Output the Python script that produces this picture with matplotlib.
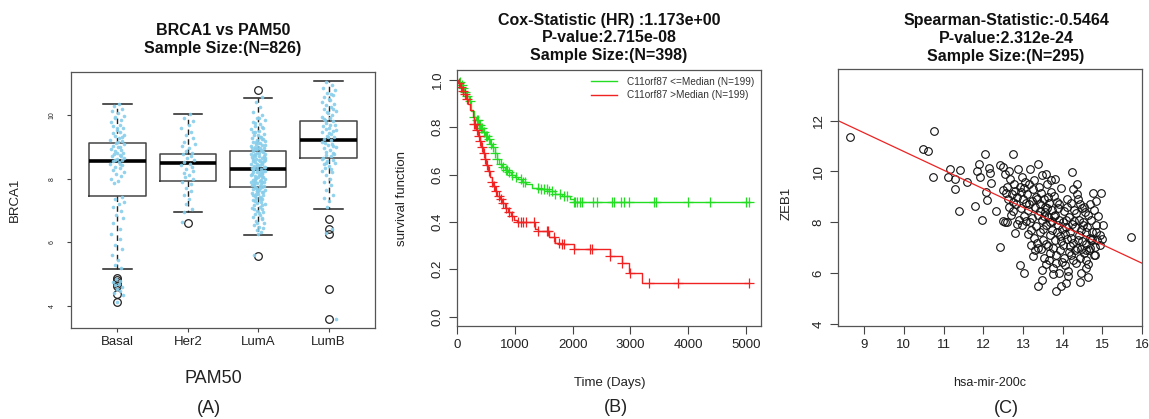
import numpy as np
import matplotlib
matplotlib.use("Agg")
from matplotlib import pyplot as plt

plt.rcParams["font.family"] = ["Liberation Sans", "DejaVu Sans"]

W, H = 1149, 419
TXT = "#222222"
FRAME = "#555555"

# ---------------- panel A: BRCA1 vs PAM50 ----------------
GROUPS = ["Basal", "Her2", "LumA", "LumB"]
BOX_WHISLO = [5.16, 6.94, 6.24, 7.05]
BOX_Q1 = [7.45, 7.94, 7.73, 8.65]
BOX_MED = [8.54, 8.49, 8.30, 9.21]
BOX_Q3 = [9.11, 8.78, 8.88, 9.82]
BOX_WHISHI = [10.35, 10.03, 10.53, 11.07]
BOX_FLIERS = [[4.88, 4.82, 4.76, 4.70, 4.64, 4.38, 4.12],
              [6.62],
              [10.80, 5.58],
              [6.73, 6.42, 6.27, 4.52, 3.59]]

# jittered samples: (value, horizontal offset)
BASAL_PTS = [(10.35, .02), (10.28, -.05), (10.2, .07), (10.12, -.08), (10.05, .01), (9.98, .09), (9.9, -.03),
             (9.85, .05), (9.78, -.09), (9.7, .03), (9.65, -.06), (9.58, .08), (9.52, -.01), (9.47, .04),
             (9.42, -.07), (9.38, .1), (9.33, -.04), (9.28, .02), (9.22, -.1), (9.18, .06), (9.13, -.02),
             (9.08, .09), (9.04, -.06), (8.98, .01), (8.93, -.09), (8.9, .05), (8.86, -.03), (8.82, .08),
             (8.78, -.05), (8.74, .03), (8.7, -.08), (8.66, .1), (8.62, -.01), (8.58, .06), (8.55, -.07),
             (8.51, .02), (8.47, -.1), (8.43, .07), (8.38, -.04), (8.33, .04), (8.28, -.06), (8.22, .09),
             (8.15, -.02), (8.08, .05), (8.0, -.09), (7.92, .01), (7.85, -.05), (9.6, .0), (9.0, .04),
             (8.6, -.03), (9.3, .07), (8.8, -.01), (8.45, .03), (9.95, -.04), (9.15, .01), (8.7, .05),
             (7.42, .06), (7.35, -.03), (7.28, .09), (7.2, .02), (7.1, -.07), (6.98, .05),
             (6.85, -.02), (6.75, .08), (6.6, -.06), (6.42, .03), (6.25, -.09), (6.1, .04), (5.92, -.04),
             (5.78, .07), (5.6, -.08), (5.45, .01), (5.3, -.03), (5.2, .05), (4.85, -.02), (4.8, .04),
             (4.74, -.06), (4.7, .02), (4.65, -.04), (4.6, .06), (4.55, -.01), (4.48, .03), (4.42, -.05),
             (4.35, .08), (4.12, .0)]
HER2_PTS = [(10.02, .03), (9.9, -.06), (9.8, .08), (9.7, .01), (9.6, -.09), (9.48, .05), (9.38, -.02),
            (9.28, .07), (9.15, -.05), (9.08, .1), (9.02, -.08), (8.95, .02), (8.88, -.03), (8.82, .06),
            (8.76, -.07), (8.7, .04), (8.64, -.01), (8.58, .09), (8.52, -.05), (8.47, .03), (8.42, -.09),
            (8.36, .06), (8.3, -.02), (8.24, .08), (8.18, -.06), (8.12, .01), (8.05, -.04), (7.98, .07),
            (7.9, -.08), (7.82, .04), (7.72, -.02), (7.6, .05), (7.48, -.06), (7.35, .02), (7.2, -.03),
            (7.05, .06), (6.95, -.05), (6.65, -.08)]
LUMA_PTS = [(10.55, .05), (10.4, -.03), (10.25, .02), (10.1, -.07), (10.0, .06), (9.92, -.02), (9.85, .09),
            (9.78, -.08), (9.72, .03), (9.66, -.05), (9.6, .07), (9.55, -.1), (9.5, .01), (9.45, -.04),
            (9.4, .08), (9.36, -.06), (9.32, .02), (9.28, -.09), (9.24, .05), (9.2, -.01), (9.17, .1),
            (9.14, -.07), (9.11, .03), (9.08, -.03), (9.05, .06), (9.02, -.1), (8.99, .0), (8.96, .08),
            (8.93, -.05), (8.9, .04), (8.87, -.08), (8.84, .07), (8.81, -.02), (8.78, .1), (8.75, -.06),
            (8.72, .01), (8.69, -.09), (8.66, .05), (8.63, -.03), (8.6, .09), (8.57, -.07), (8.54, .02),
            (8.51, -.04), (8.48, .06), (8.45, -.1), (8.42, .03), (8.39, -.01), (8.36, .08), (8.33, -.06),
            (8.3, .04), (8.27, -.08), (8.24, .1), (8.21, -.02), (8.18, .05), (8.15, -.09), (8.12, .01),
            (8.09, -.05), (8.06, .07), (8.03, -.03), (8.0, .09), (7.97, -.07), (7.94, .02), (7.91, -.1),
            (7.88, .06), (7.85, -.01), (7.82, .04), (7.79, -.06), (7.76, .08), (7.73, -.04), (7.7, .03),
            (7.67, -.08), (7.64, .1), (7.61, -.02), (7.58, .05), (7.55, -.09), (7.52, .0), (7.49, .07),
            (7.46, -.05), (7.43, .02), (7.4, -.03), (7.36, .06), (7.32, -.07), (7.28, .04), (7.24, -.01),
            (7.2, .09), (7.16, -.06), (7.12, .03), (7.08, -.09), (7.04, .05), (7.0, -.02), (6.95, .07),
            (6.9, -.04), (6.85, .02), (6.8, -.08), (6.74, .05), (6.68, -.03), (6.62, .08), (6.55, -.06),
            (6.48, .01), (6.4, -.02), (6.32, .04), (6.25, .0), (5.6, -.06), (8.95, .03), (8.7, -.05),
            (8.45, .06), (8.2, -.07), (7.95, .04), (7.7, -.03), (8.55, .08), (8.35, -.09), (8.1, .02),
            (7.85, -.06), (9.3, .04), (9.0, -.04), (8.8, .01), (8.25, .07), (7.6, -.02),
            (9.9, .01), (9.75, -.04), (9.62, .05), (9.48, -.08), (9.38, .0), (9.26, .07), (9.16, -.03),
            (9.06, .09), (8.97, -.09), (8.88, .06), (8.79, -.04), (8.71, .08), (8.62, -.08), (8.53, .05),
            (8.46, -.02), (8.38, .09), (8.29, -.07), (8.22, .03), (8.13, -.1), (8.05, .06), (7.98, -.04),
            (7.9, .08), (7.81, -.09), (7.74, .05), (7.66, -.02), (7.57, .07), (7.48, -.08), (7.39, .04),
            (7.3, -.05), (7.18, .06), (7.06, -.06), (6.92, .01), (6.78, .06), (6.6, -.02), (6.45, .07),
            (8.92, -.01), (8.58, .01), (8.31, -.01), (8.04, .0), (7.78, .02), (7.52, -.03), (9.12, .0),
            (8.66, .09), (8.4, -.06), (8.16, .06), (7.92, -.04), (7.63, .01), (7.35, .03), (8.76, -.1)]
LUMB_PTS = [(11.05, -.03), (10.95, .05), (10.85, -.08), (10.78, .09), (10.7, -.02), (10.62, .06),
            (10.55, -.06), (10.48, .02), (10.42, -.1), (10.36, .08), (10.3, -.04), (10.24, .03),
            (10.18, -.07), (10.12, .1), (10.06, -.01), (10.0, .05), (9.95, -.09), (9.9, .02), (9.85, -.05),
            (9.8, .07), (9.75, -.03), (9.7, .09), (9.65, -.08), (9.6, .01), (9.55, -.04), (9.5, .06),
            (9.45, -.1), (9.4, .04), (9.35, -.02), (9.3, .08), (9.25, -.06), (9.2, .03), (9.15, -.09),
            (9.1, .05), (9.05, -.01), (9.0, .1), (8.95, -.07), (8.9, .02), (8.85, -.04), (8.8, .07),
            (8.75, -.03), (8.7, .04), (8.65, -.08), (8.6, .06), (8.55, -.02), (8.5, .09), (8.45, -.06),
            (8.4, .01), (8.35, -.05), (8.3, .03), (8.25, -.09), (8.2, .05), (8.1, -.03), (8.0, .02),
            (7.9, -.06), (7.8, .04), (7.65, -.04), (7.5, .06), (7.4, -.07), (7.3, .01), (7.12, -.02),
            (6.42, .05), (6.3, -.04), (3.6, .1), (10.5, .0), (10.1, -.02), (9.7, .02), (9.3, -.01),
            (10.65, .04), (10.2, .07), (9.88, -.07), (9.52, .1), (9.12, -.05), (8.78, .08), (8.48, -.03),
            (9.42, .0), (9.02, .06), (8.62, -.1)]
GROUP_PTS = [BASAL_PTS, HER2_PTS, LUMA_PTS, LUMB_PTS]

# ---------------- panel B: Kaplan-Meier ----------------
LOW_T = [0, 30, 60, 90, 120, 160, 200, 250, 290, 330, 370, 410, 450, 490, 530, 570, 610, 650, 690, 730,
         780, 830, 880, 940, 1000, 1060, 1120, 1200, 1300, 1420, 1560, 1700, 1820, 1960, 2020]
LOW_S = [1.0, 0.99, 0.98, 0.965, 0.95, 0.93, 0.91, 0.87, 0.845, 0.83, 0.81, 0.795, 0.78, 0.765, 0.75,
         0.73, 0.715, 0.69, 0.665, 0.645, 0.63, 0.62, 0.61, 0.6, 0.59, 0.58, 0.57, 0.56, 0.545, 0.54, 0.53,
         0.52, 0.51, 0.495, 0.482]
LOW_CENSOR = [50, 80, 110, 140, 180, 220, 300, 340, 360, 380, 400, 420, 440, 470, 500, 520, 550, 580, 620,
              660, 700, 760, 800, 840, 860, 900, 960, 1020, 1100, 1150, 1180, 1400, 1450, 1500, 1550, 1600,
              1640, 1700, 1780, 1850, 1900, 2030, 2050, 2070, 2120, 2160, 2350, 2430, 2690, 2710, 2830,
              2890, 2980, 3400, 3440, 3990, 4370, 5000, 5060]
HIGH_T = [0, 20, 50, 80, 110, 150, 190, 230, 270, 300, 330, 360, 390, 420, 450, 480, 510, 540, 570, 600,
          630, 660, 700, 740, 780, 830, 880, 930, 980, 1040, 1350, 1400, 1600, 1700, 1790, 2020, 2650,
          2850, 2980, 3200]
HIGH_S = [1.0, 0.985, 0.97, 0.955, 0.94, 0.92, 0.9, 0.875, 0.845, 0.815, 0.79, 0.765, 0.74, 0.715, 0.69,
          0.665, 0.64, 0.615, 0.59, 0.57, 0.55, 0.53, 0.51, 0.495, 0.48, 0.46, 0.44, 0.425, 0.41, 0.40,
          0.37, 0.36, 0.335, 0.31, 0.305, 0.285, 0.255, 0.225, 0.185, 0.141]
HIGH_CENSOR = [40, 70, 100, 130, 170, 300, 320, 350, 380, 400, 430, 460, 490, 520, 560, 600, 640, 680, 720,
               760, 800, 850, 900, 960, 1050, 1100, 1150, 1200, 1330, 1400, 1560, 1580, 1680, 1760, 1820,
               1860, 2020, 2300, 2340, 2650, 2860, 3000, 3330, 3830, 5060]
LOW_LABEL = "C11orf87 <=Median (N=199)"
HIGH_LABEL = "C11orf87 >Median (N=199)"

# ---------------- panel C: ZEB1 vs hsa-mir-200c ----------------
SCATTER_PTS = [
    (8.64, 11.34), (10.49, 10.89), (10.62, 10.81), (10.77, 11.6), (10.73, 9.77), (11.15, 10.09),
    (11.1, 9.8), (11.28, 9.71), (11.3, 9.3), (11.42, 10.04), (11.4, 8.46), (11.59, 9.6), (11.79, 8.65),
    (11.84, 10.0), (11.9, 10.3), (11.91, 9.79), (11.97, 8.1), (12.04, 10.68), (12.08, 9.18), (12.1, 8.87),
    (12.14, 10.15), (12.2, 9.54), (12.16, 9.93), (12.32, 8.46), (12.41, 7.02), (12.41, 10.26),
    (12.49, 10.19), (12.51, 9.28), (12.51, 8.05), (12.56, 8.02), (12.75, 10.68), (12.79, 7.57),
    (12.93, 6.32), (13.02, 6.0), (13.25, 6.69), (13.38, 10.29), (13.48, 5.73), (13.38, 5.5), (13.49, 6.12),
    (13.59, 9.9), (13.71, 9.67), (13.84, 5.3), (13.97, 5.51), (14.09, 5.63), (14.24, 9.96), (14.35, 9.51),
    (14.43, 5.67), (14.47, 6.0), (14.64, 5.86), (14.77, 9.17), (14.85, 8.82), (14.96, 9.14), (15.02, 7.9),
    (15.0, 7.33), (15.73, 7.41), (14.81, 7.04), (14.81, 6.72), (14.6, 6.52), (14.64, 6.35), (14.6, 6.91),
    (14.72, 7.31),
    (12.55, 9.9), (12.6, 9.4), (12.62, 8.9), (12.65, 8.6), (12.68, 9.7), (12.7, 8.3), (12.72, 9.1),
    (12.75, 8.8), (12.78, 9.5), (12.6, 8.0), (12.66, 10.0), (12.74, 8.45), (12.8, 9.25), (12.58, 9.15),
    (12.82, 8.7), (12.85, 9.0), (12.88, 10.1), (12.9, 8.1), (12.92, 9.4), (12.95, 8.55), (12.97, 9.8),
    (13.0, 8.9), (13.02, 8.25), (13.05, 9.6), (13.08, 8.75), (12.86, 7.95), (12.94, 9.2), (13.03, 9.35),
    (13.07, 8.05), (12.98, 7.9), (13.1, 9.1),
    (13.12, 8.5), (13.15, 9.5), (13.17, 8.0), (13.2, 7.7), (13.22, 8.85), (13.25, 9.3), (13.27, 7.4),
    (13.3, 8.6), (13.32, 9.0), (13.35, 7.2), (13.37, 8.3), (13.4, 9.4), (13.14, 7.55), (13.18, 10.1),
    (13.24, 8.15), (13.28, 9.65), (13.33, 7.85), (13.36, 8.9), (13.21, 7.1), (13.39, 7.0), (13.16, 8.7),
    (13.3, 6.9),
    (13.42, 8.7), (13.44, 7.6), (13.46, 9.15), (13.48, 8.1), (13.5, 7.3), (13.52, 8.9), (13.54, 6.6),
    (13.56, 8.4), (13.58, 7.9), (13.6, 9.5), (13.62, 8.2), (13.64, 7.05), (13.66, 8.75), (13.68, 6.8),
    (13.7, 9.2), (13.43, 8.45), (13.47, 9.85), (13.51, 7.75), (13.55, 8.6), (13.59, 6.35), (13.63, 9.0),
    (13.67, 7.5), (13.45, 6.95), (13.53, 8.25), (13.57, 7.15), (13.61, 8.55), (13.65, 6.5), (13.69, 8.0),
    (13.72, 7.7), (13.74, 8.5), (13.76, 6.2), (13.78, 9.05), (13.8, 7.3), (13.82, 8.3), (13.84, 6.7),
    (13.86, 8.8), (13.88, 7.9), (13.9, 6.0), (13.92, 8.1), (13.94, 7.45), (13.96, 9.35), (13.98, 6.45),
    (14.0, 8.0), (13.73, 8.05), (13.77, 7.0), (13.81, 9.7), (13.85, 7.6), (13.89, 8.55), (13.93, 6.9),
    (13.97, 7.25), (13.75, 5.95), (13.83, 6.4), (13.91, 8.7), (13.99, 7.75), (13.79, 8.25),
    (14.02, 7.1), (14.04, 8.45), (14.06, 6.3), (14.08, 7.8), (14.1, 8.9), (14.12, 7.35), (14.14, 6.1),
    (14.16, 8.2), (14.18, 7.6), (14.2, 8.75), (14.22, 6.7), (14.24, 7.95), (14.26, 7.2), (14.28, 8.5),
    (14.3, 6.9), (14.05, 7.55), (14.09, 8.1), (14.13, 5.9), (14.17, 6.85), (14.21, 7.4), (14.25, 9.3),
    (14.29, 8.05), (14.03, 6.6), (14.11, 8.6), (14.19, 7.05), (14.27, 6.5),
    (14.32, 7.8), (14.34, 8.35), (14.36, 7.0), (14.38, 8.9), (14.4, 7.5), (14.42, 8.1), (14.44, 6.6),
    (14.46, 7.7), (14.48, 8.55), (14.5, 7.25), (14.52, 8.0), (14.54, 6.8), (14.56, 8.4), (14.58, 7.6),
    (14.6, 6.2), (14.35, 9.1), (14.39, 7.3), (14.43, 8.7), (14.47, 6.95), (14.51, 7.9), (14.55, 8.6),
    (14.59, 7.15), (14.33, 6.4),
    (14.62, 7.8), (14.65, 8.3), (14.68, 7.4), (14.7, 7.0), (14.72, 8.1), (14.75, 7.6), (14.78, 8.5),
    (14.8, 6.7), (14.83, 7.9), (14.87, 7.3), (14.9, 8.25), (14.93, 7.1), (14.66, 6.9), (14.74, 7.35),
    (14.85, 7.6), (14.95, 7.5), (14.7, 8.7)]
FIT_X = [8.34, 16.0]
FIT_Y = [12.0, 6.39]


def fx(px):
    return px / W


def fy(py):
    return 1 - py / H


def style_frame(ax):
    for sp in ax.spines.values():
        sp.set_color(FRAME)
        sp.set_linewidth(0.9)
    ax.tick_params(colors="#444444", labelcolor=TXT, width=0.8, length=6)


fig = plt.figure(figsize=(W / 100, H / 100), dpi=100)

# ---- A ----
axA = fig.add_axes([fx(71), fy(328), fx(304), 256 / H])
pos = np.arange(1, 5)
for i, pts in enumerate(GROUP_PTS):
    ys, dx = zip(*pts)
    axA.plot(pos[i] + np.array(dx), ys, "o", ms=2.6, color="#87CEEB", mec="none", alpha=0.9, zorder=3)
stats = [dict(whislo=BOX_WHISLO[i], q1=BOX_Q1[i], med=BOX_MED[i], q3=BOX_Q3[i], whishi=BOX_WHISHI[i],
              fliers=BOX_FLIERS[i]) for i in range(4)]
axA.bxp(stats, positions=pos, widths=0.8, capwidths=0.4, showfliers=True,
        boxprops=dict(color="#444444", linewidth=1.1),
        medianprops=dict(color="black", linewidth=2.6),
        whiskerprops=dict(color="#222222", linewidth=1.0, linestyle=(0, (4, 3))),
        capprops=dict(color="#222222", linewidth=1.1),
        flierprops=dict(marker="o", markersize=5.5, markerfacecolor="none", markeredgecolor="#222222",
                        markeredgewidth=0.9))
axA.set_xlim(0.34, 4.66)
axA.set_ylim(3.31, 11.35)
axA.set_xticks(pos)
axA.set_xticklabels(GROUPS, fontsize=9.5)
axA.set_yticks([4, 6, 8, 10])
style_frame(axA)
axA.tick_params(axis="y", labelsize=5, length=3, pad=8)
axA.tick_params(axis="x", length=3, pad=3)
plt.setp(axA.get_yticklabels(), rotation=90, va="center")
fig.text(fx(223), fy(39.5), "BRCA1 vs PAM50\nSample Size:(N=826)", ha="center", va="center",
         fontsize=11.5, fontweight="bold", linespacing=1.25, color="#111111")
fig.text(fx(15), fy(200), "BRCA1", rotation=90, ha="center", va="center", fontsize=9.5, color=TXT)
fig.text(fx(213), fy(378), "PAM50", ha="center", va="center", fontsize=13, color=TXT)
fig.text(fx(209), fy(408), "(A)", ha="center", va="center", fontsize=13, color=TXT)

# ---- B ----
axB = fig.add_axes([fx(457), fy(326), fx(304), 256 / H])


def step_at(ts, ss, q):
    idx = np.searchsorted(ts, q, side="right") - 1
    return np.array(ss)[idx]


for ts, ss, cens, col, lab in [(LOW_T, LOW_S, LOW_CENSOR, "#22DD22", LOW_LABEL),
                               (HIGH_T, HIGH_S, HIGH_CENSOR, "#F02222", HIGH_LABEL)]:
    t_end = max(ts[-1], cens[-1])
    axB.step(list(ts) + [t_end], list(ss) + [ss[-1]], where="post", color=col, lw=1.0, label=lab)
    axB.plot(cens, step_at(ts, ss, cens), "+", color=col, ms=7, mew=0.9, ls="none")
axB.set_xlim(0, 5260)
axB.set_ylim(-0.04, 1.042)
axB.set_xticks([0, 1000, 2000, 3000, 4000, 5000])
axB.set_yticks([0.0, 0.2, 0.4, 0.6, 0.8, 1.0])
axB.set_yticklabels(["0.0", "0.2", "0.4", "0.6", "0.8", "1.0"])
style_frame(axB)
axB.tick_params(labelsize=9.5)
plt.setp(axB.get_yticklabels(), rotation=90, va="center")
leg = axB.legend(loc="upper right", frameon=False, fontsize=7.2, handlelength=2.6, handletextpad=1.0,
                 borderaxespad=0.3, labelspacing=0.35)
for t in leg.get_texts():
    t.set_color("#333333")
fig.text(fx(609), fy(38), "Cox-Statistic (HR) :1.173e+00\nP-value:2.715e-08\nSample Size:(N=398)",
         ha="center", va="center", fontsize=11.5, fontweight="bold", linespacing=1.22, color="#111111")
fig.text(fx(402), fy(198), "survival function", rotation=90, ha="center", va="center", fontsize=9.5, color=TXT)
fig.text(fx(610), fy(383), "Time (Days)", ha="center", va="center", fontsize=9.5, color=TXT)
fig.text(fx(616), fy(407), "(B)", ha="center", va="center", fontsize=13, color=TXT)

# ---- C ----
axC = fig.add_axes([fx(838), fy(326), fx(304), 257 / H])
sx, sy = zip(*SCATTER_PTS)
axC.plot(sx, sy, "o", ms=5.5, mfc="none", mec="#111111", mew=0.8, ls="none")
axC.plot(FIT_X, FIT_Y, color="#EE2222", lw=0.9)
axC.set_xlim(8.34, 16.0)
axC.set_ylim(3.92, 14.03)
axC.set_xticks(range(9, 17))
axC.set_yticks([4, 6, 8, 10, 12])
style_frame(axC)
axC.tick_params(labelsize=9.5)
plt.setp(axC.get_yticklabels(), rotation=90, va="center")
fig.text(fx(1006), fy(38.5), "Spearman-Statistic:-0.5464\nP-value:2.312e-24\nSample Size:(N=295)",
         ha="center", va="center", fontsize=11.5, fontweight="bold", linespacing=1.22, color="#111111")
fig.text(fx(787), fy(203), "ZEB1", rotation=90, ha="center", va="center", fontsize=9.5, color=TXT)
fig.text(fx(990), fy(383), "hsa-mir-200c", ha="center", va="center", fontsize=9, color=TXT)
fig.text(fx(1006), fy(408), "(C)", ha="center", va="center", fontsize=13, color=TXT)

fig.savefig("out.png", dpi=100)
